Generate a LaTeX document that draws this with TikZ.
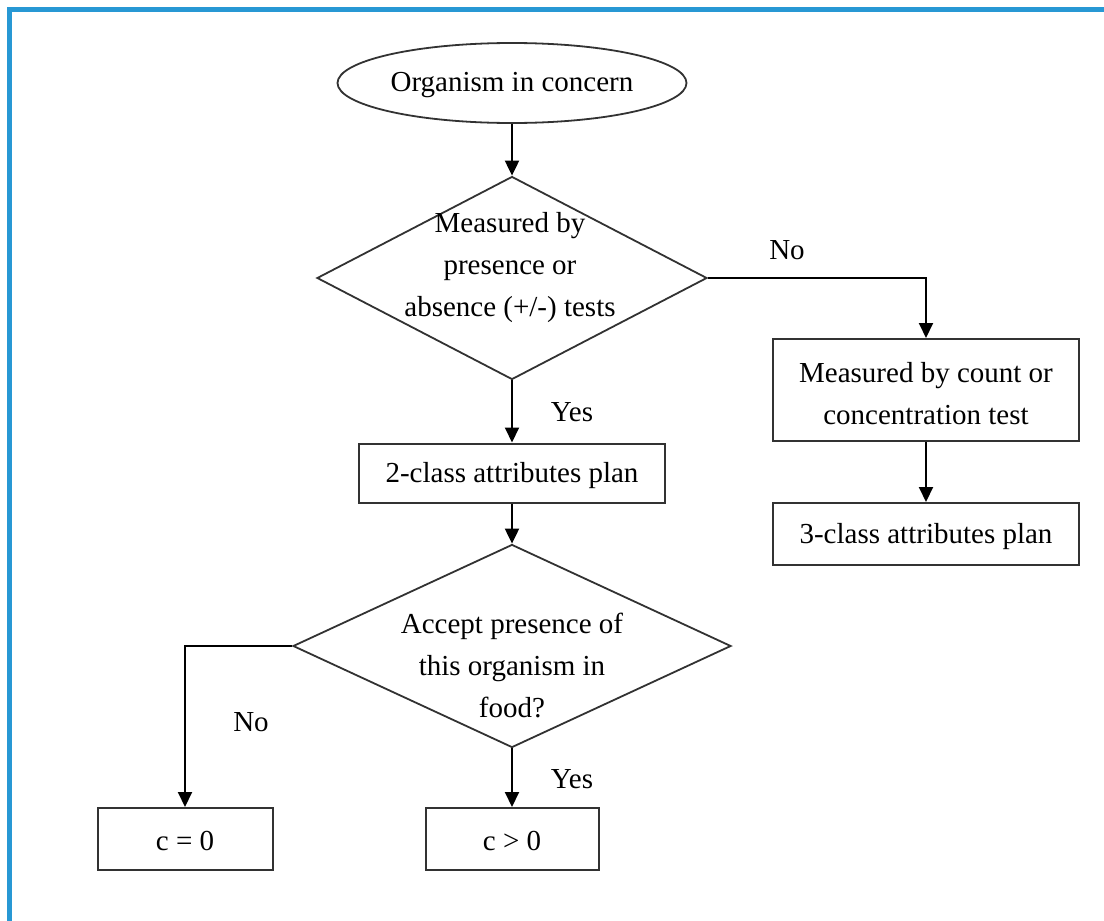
\documentclass[tikz,border=0pt]{standalone}
\usepackage{fontspec}
\setmainfont{Liberation Serif}
\usepackage{tikz}
\usetikzlibrary{positioning, arrows.meta, shapes.geometric, calc}
\usepackage{xcolor}
\definecolor{frameblue}{RGB}{40, 152, 212}
\definecolor{boxgray}{RGB}{50, 50, 50}

\begin{document}
\begin{tikzpicture}[x=1pt, y=-1pt,
    font=\fontsize{29}{42}\selectfont,
    flowline/.style={line width=2pt, -{Triangle[length=15pt, width=14pt]}},
    stepbox/.style={draw=boxgray, line width=2pt, align=center, inner sep=0pt},
    decision/.style={draw=boxgray, line width=1.8pt, shape=diamond, inner sep=0pt,
                     minimum width=#1, minimum height=203pt},
    startnode/.style={draw=boxgray, line width=1.8pt, shape=ellipse, inner sep=0pt,
                      minimum width=349pt, minimum height=80pt}]
  \useasboundingbox (0,0) rectangle (1104,921);
  \draw[frameblue, line width=4.5pt] (9.5,921) -- (9.5,9.5) -- (1104,9.5);

  \node[startnode] (organism) at (512,83) {};
  \node (organismtext) at (512,85) {Organism in concern};
  \node[decision=390pt] (presence) at (512,278) {};
  \node[align=center] (presencetext) at (510,268) {Measured by\\presence or\\absence (+/-) tests};
  \node[stepbox, minimum width=306pt, minimum height=102pt] (count) at (926,390) {};
  \node[align=center] (counttext) at (926,394) {Measured by count or\\concentration test};
  \node[stepbox, minimum width=306pt, minimum height=62pt] (threeclass) at (926,534) {};
  \node (threeclasstext) at (926,537) {3-class attributes plan};
  \node[stepbox, minimum width=306pt, minimum height=59pt] (twoclass) at (512,473) {};
  \node (twoclasstext) at (512,476) {2-class attributes plan};
  \node[decision=438pt] (accept) at (512,646) {};
  \node[align=center] (accepttext) at (512,665) {Accept presence of\\this organism in\\food?};
  \node[stepbox, minimum width=175pt, minimum height=62pt] (czero) at (185,839) {};
  \node (czerotext) at (185,841) {c = 0};
  \node[stepbox, minimum width=173pt, minimum height=62pt] (cpos) at (512,839) {};
  \node (cpostext) at (512,841) {c \textgreater{} 0};

  \node (nopresence) at (787,250) {No};
  \node (yespresence) at (572,412) {Yes};
  \node (noaccept) at (251,722) {No};
  \node (yesaccept) at (572,779) {Yes};

  \draw[flowline] (organism.south) -- (presence.north);
  \draw[flowline] (presence.east) -| (count.north);
  \draw[flowline] (count.south) -- (threeclass.north);
  \draw[flowline] (presence.south) -- (twoclass.north);
  \draw[flowline] (twoclass.south) -- (accept.north);
  \draw[flowline] (accept.west) -| (czero.north);
  \draw[flowline] (accept.south) -- (cpos.north);
\end{tikzpicture}
\end{document}
